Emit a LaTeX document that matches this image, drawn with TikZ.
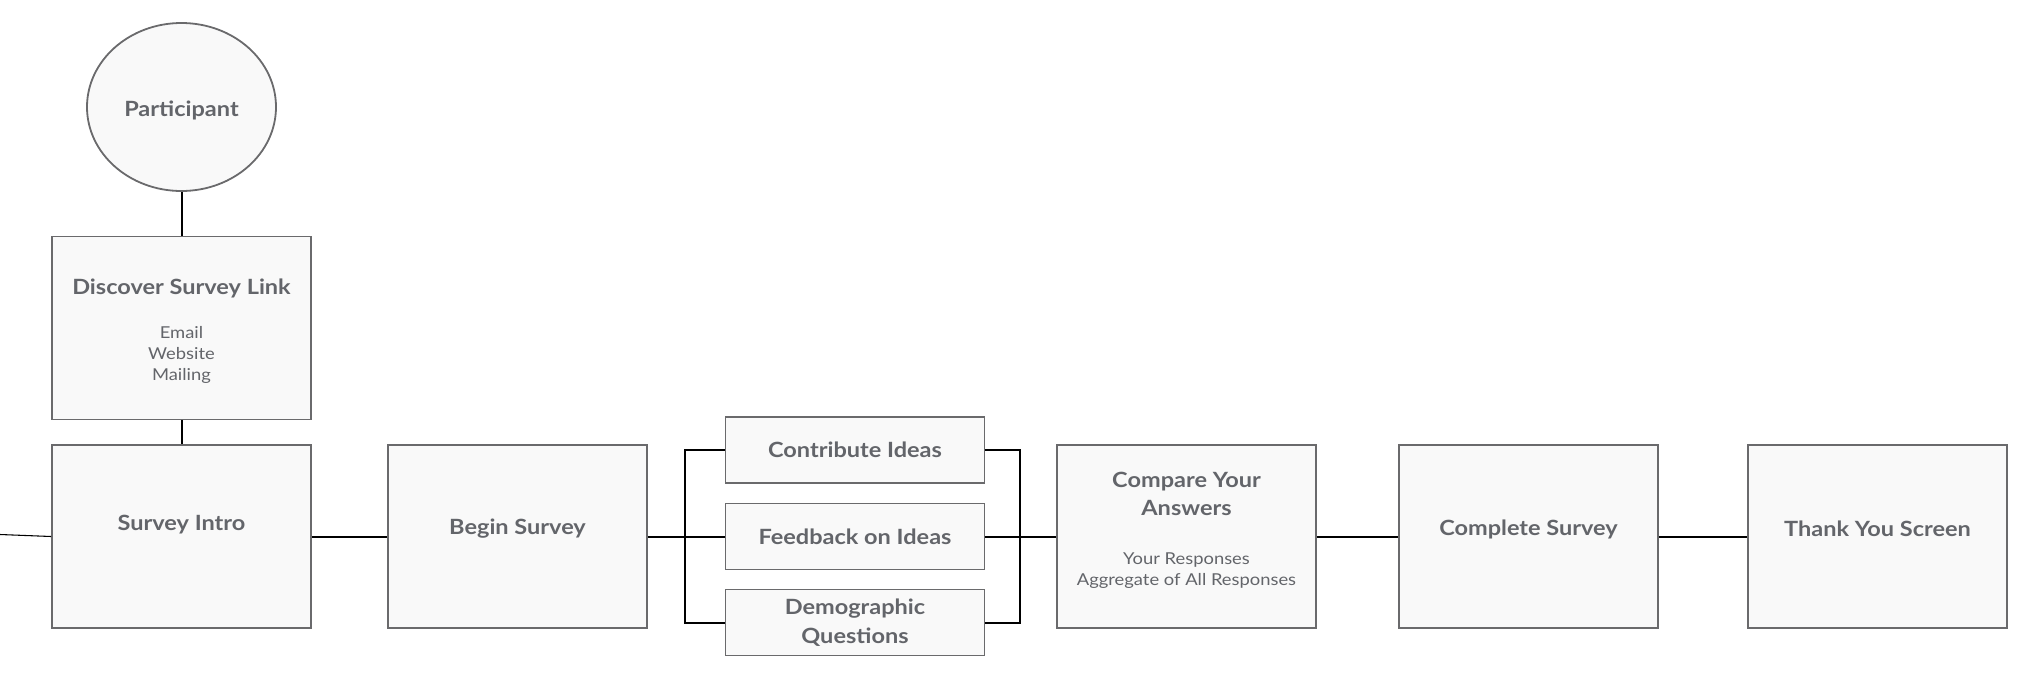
\documentclass[tikz,border=0pt]{standalone}
\usepackage{fontspec}
\usetikzlibrary{shapes.geometric}
\setmainfont{Lato}[FakeStretch=1.12]
\definecolor{txt}{HTML}{63656A}
\definecolor{boxline}{HTML}{6A6A6C}
\definecolor{boxfill}{HTML}{F9F9F9}
\newcommand{\ttlfont}{\fontsize{15.75}{21.5}\selectfont\bfseries}
\newcommand{\subfont}{\fontsize{12.3}{15.75}\selectfont}
\tikzset{
  shapebox/.style={draw=boxline, fill=boxfill, line width=1.35pt, inner sep=0pt},
  bigbox/.style={shapebox, rectangle, minimum width=194.25pt, minimum height=137.25pt},
  smallbox/.style={shapebox, rectangle, minimum width=194.25pt, minimum height=49.5pt, text=txt, font=\ttlfont, align=center},
  ttl/.style={text=txt, font=\ttlfont, align=center, inner sep=0pt},
  sub/.style={text=txt, font=\subfont, align=center, inner sep=0pt},
  conn/.style={draw=black, line width=1.5pt},
}
\begin{document}
\begin{tikzpicture}[x=0.75pt,y=-0.75pt]
\useasboundingbox (0,0) rectangle (2042,693);
% shapes
\node[shapebox, ellipse, minimum width=141.75pt, minimum height=126pt] (part) at (181.5,107) {};
\node[bigbox] (disc) at (181.5,328) {};
\node[bigbox] (intro) at (181.5,536.5) {};
\node[bigbox] (begin) at (517.5,536.5) {};
\node[smallbox] (contrib) at (855,450) {\raisebox{-2pt}{Contribute Ideas}};
\node[smallbox] (feed) at (855,536.5) {\raisebox{-1.5pt}{Feedback on Ideas}};
\node[smallbox] (demo) at (855,622.5) {\raisebox{-2pt}{Demographic}\\\raisebox{-2pt}{Questions}};
\node[bigbox] (comp) at (1186.5,536.5) {};
\node[bigbox] (complete) at (1528.5,536.5) {};
\node[bigbox] (thanks) at (1877.5,536.5) {};
% texts
\node[ttl] (tpart) at (181.5,110) {Participant};
\node[ttl] (tdisc) at (181.5,288) {Discover Survey Link};
\node[sub] (sdisc) at (181.5,355) {Email\\Website\\Mailing};
\node[ttl] (tintro) at (181.5,525) {Survey Intro};
\node[ttl] (tbegin) at (517.5,529) {Begin Survey};
\node[ttl] (tcomp) at (1186.5,494) {Compare Your\\Answers};
\node[sub] (scomp) at (1186.5,571) {Your Responses\\Aggregate of All Responses};
\node[ttl] (tcomplete) at (1528.5,529) {Complete Survey};
\node[ttl] (tthanks) at (1877.5,529) {Thank You Screen};
% connectors
\coordinate (lft) at (0,534.5);
\draw[conn] (part) -- (disc);
\draw[conn] (disc) -- (intro);
\draw[conn, line width=0.8pt] (lft) -- (intro.west);
\draw[conn] (intro) -- (begin);
\draw[conn] (begin) -- (feed);
\draw[conn] (feed) -- (comp);
\draw[conn] (comp) -- (complete);
\draw[conn] (complete) -- (thanks);
\draw[conn] (contrib.west) -- ++(-40,0) |- (demo.west);
\draw[conn] (contrib.east) -- ++(35,0) |- (demo.east);
\end{tikzpicture}
\end{document}
